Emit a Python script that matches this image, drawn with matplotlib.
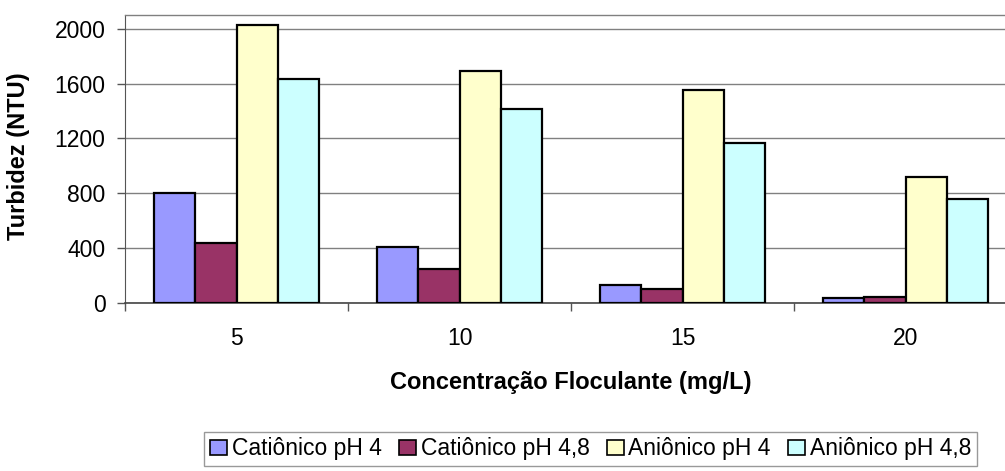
import matplotlib
matplotlib.use("Agg")
import matplotlib.pyplot as plt
import numpy as np

plt.rcParams['font.family'] = ['Liberation Sans', 'DejaVu Sans']

categories = ["5", "10", "15", "20"]
series_names = ["Catiônico pH 4", "Catiônico pH 4,8", "Aniônico pH 4", "Aniônico pH 4,8"]
cat_ph4 = [800, 410, 130, 40]
cat_ph48 = [440, 250, 100, 45]
ani_ph4 = [2030, 1690, 1550, 920]
ani_ph48 = [1635, 1415, 1168, 760]
yticks = [0, 400, 800, 1200, 1600, 2000]
colors = ["#9999FF", "#993366", "#FFFFCC", "#CCFFFF"]

W, H = 1005, 471
fig = plt.figure(figsize=(W / 100, H / 100), dpi=100)
ax = fig.add_axes([125 / W, 1 - 303 / H, (1017 - 125) / W, (303 - 15) / H])

values = [cat_ph4, cat_ph48, ani_ph4, ani_ph48]
n = len(categories)
centers = np.arange(n) + 0.5
w = 0.184
for j, (vals, name, c) in enumerate(zip(values, series_names, colors)):
    ax.bar(centers + (j - 1.5) * w, vals, width=w, color=c, edgecolor="black",
           linewidth=1.6, label=name, zorder=3)

ax.set_xlim(0, n)
ax.set_ylim(0, 2100)
ax.set_yticks(yticks)
ax.set_yticklabels([str(t) for t in yticks], fontsize=16.5)
ax.yaxis.grid(True, color="#808080", linewidth=1.0, zorder=0)
ax.set_axisbelow(True)

ax.set_xticks(np.arange(n + 1))
ax.set_xticklabels([""] * (n + 1))
ax.set_xticks(centers, minor=True)
ax.set_xticklabels(categories, minor=True, fontsize=16.5)
ax.tick_params(axis="x", which="major", length=6, color="#555555", width=1)
ax.tick_params(axis="x", which="minor", length=0, pad=17)
ax.tick_params(axis="y", length=6, color="#555555", width=1, pad=8)

ax.spines["top"].set_color("#808080")
ax.spines["top"].set_linewidth(1.0)
ax.spines["right"].set_visible(False)
ax.spines["left"].set_color("#555555")
ax.spines["bottom"].set_color("#444444")
ax.spines["bottom"].set_linewidth(1.2)

fig.text(18 / W, 1 - 156 / H, "Turbidez (NTU)", rotation=90, ha="center", va="center",
         fontsize=17, fontweight="bold")
fig.text(571 / W, 1 - 383 / H, "Concentração Floculante (mg/L)", ha="center", va="center",
         fontsize=17, fontweight="bold")

leg = fig.legend(loc="center", bbox_to_anchor=((202 + 979) / 2 / W, 1 - 449 / H),
                 ncol=4, fontsize=16.5, frameon=True, fancybox=False, edgecolor="#808080",
                 handlelength=0.75, handleheight=0.65, handletextpad=0.2, columnspacing=0.75,
                 borderpad=0.25, borderaxespad=0)
leg.get_frame().set_linewidth(1.0)
for h in leg.legend_handles:
    h.set_linewidth(1.2)

fig.savefig("out.png", dpi=100)
